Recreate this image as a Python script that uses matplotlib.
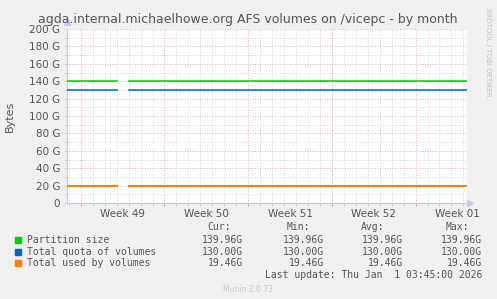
import numpy as np
import matplotlib.pyplot as plt
from matplotlib.patches import Rectangle

# time axis in days since Mon Dec 1 (start of Week 49)
days = [-1.15, 3.0, 3.5, 4.0, 32.3]
partition = [139.96, 139.96, np.nan, 139.96, 139.96]
quota = [130.00, 130.00, np.nan, 130.00, 130.00]
used = [19.46, 19.46, np.nan, 19.46, 19.46]

week_starts = [0, 7, 14, 21, 28]
week_labels = ['Week 49', 'Week 50', 'Week 51', 'Week 52', 'Week 01']
y_ticks = [0, 20, 40, 60, 80, 100, 120, 140, 160, 180, 200]
y_labels = ['0'] + [f'{v} G' for v in y_ticks[1:]]

series = [
  ('Partition size', '#00CC00', partition, ['139.96G', '139.96G', '139.96G', '139.96G']),
  ('Total quota of volumes', '#0066B3', quota, ['130.00G', '130.00G', '130.00G', '130.00G']),
  ('Total used by volumes', '#FF8000', used, ['19.46G', '19.46G', '19.46G', '19.46G']),
]

W, H = 497, 299
fig = plt.figure(figsize=(W / 100, H / 100), dpi=100, facecolor='#F0F0F0')
ax = fig.add_axes([67 / W, (H - 203) / H, 400 / W, 174 / H], facecolor='white')

txt = '#555555'
for name, color, vals, _ in series:
  ax.plot(days, vals, color=color, lw=1.1 if color != '#FF8000' else 1.5, zorder=3)

ax.set_xlim(-1.15, 32.3)
ax.set_ylim(0, 200)

# grid: days/10G minor, weeks/20G major
ax.set_xticks(week_starts)
ax.set_xticklabels([''] * len(week_starts))
ax.set_xticks(np.arange(-1, 33), minor=True)
ax.set_yticks(y_ticks)
ax.set_yticklabels(y_labels)
ax.set_yticks(np.arange(10, 200, 20), minor=True)
ax.grid(which='minor', color='#CCCCCC', ls=(0, (1, 2)), lw=0.6)
ax.grid(which='major', color='#F09090', ls=(0, (1, 2)), lw=0.6)
ax.tick_params(which='both', length=2, width=0.6, labelsize=7.5, labelcolor=txt, pad=3)
ax.tick_params(axis='x', which='major', color='#F09090')
ax.tick_params(axis='x', which='minor', color='#CCCCCC')
ax.tick_params(axis='y', which='both', color='#CCCCCC')

sec = ax.secondary_xaxis('bottom')
sec.set_xticks([s + 3.5 for s in week_starts])
sec.set_xticklabels(week_labels)
sec.tick_params(length=0, labelsize=7.5, labelcolor=txt, pad=4)
sec.spines['bottom'].set_visible(False)

for s in ['top', 'right']:
  ax.spines[s].set_visible(False)
for s in ['left', 'bottom']:
  ax.spines[s].set_color('#C8C8F0')
  ax.spines[s].set_linewidth(0.8)
ax.plot([0], [1.04], marker='^', ms=4, color='#C8C8F0', transform=ax.transAxes, clip_on=False)
ax.plot([1.008], [0], marker='>', ms=4, color='#C8C8F0', transform=ax.transAxes, clip_on=False)

ax.set_ylabel('Bytes', fontsize=8, color=txt, labelpad=10)

fig.text(248 / W, 1 - 19 / H, 'agda.internal.michaelhowe.org AFS volumes on /vicepc - by month',
         ha='center', va='center', fontsize=9, color=txt)
fig.text(488 / W, 1 - 52 / H, 'RRDTOOL / TOBI OETIKER', rotation=-90, ha='center', va='center',
         fontsize=5, color='#C0C0C0')

# legend table
mono = 'DejaVu Sans Mono'
fs = 7
col_right = [243, 324, 403, 482]
head_right = [231, 310, 384, 469]
for x, h in zip(head_right, ['Cur:', 'Min:', 'Avg:', 'Max:']):
  fig.text(x / W, 1 - 227 / H, h, ha='right', va='center', family=mono, fontsize=fs, color=txt)
row_y = [240, 251.7, 263.3]
for (name, color, _, stats), y in zip(series, row_y):
  fig.patches.append(Rectangle((15 / W, 1 - (y + 3) / H), 6 / W, 6 / H, color=color,
                               transform=fig.transFigure))
  fig.text(27 / W, 1 - y / H, name, ha='left', va='center', family=mono, fontsize=fs, color=txt)
  for x, s in zip(col_right, stats):
    fig.text(x / W, 1 - y / H, s, ha='right', va='center', family=mono, fontsize=fs, color=txt)
fig.text(482 / W, 1 - 275.3 / H, 'Last update: Thu Jan  1 03:45:00 2026', ha='right', va='center',
         family=mono, fontsize=fs, color=txt)
fig.text(248 / W, 1 - 289 / H, 'Munin 2.0.73', ha='center', va='center', fontsize=5.5, color='#C8C8C8')

fig.savefig('out.png', dpi=100, facecolor=fig.get_facecolor())
